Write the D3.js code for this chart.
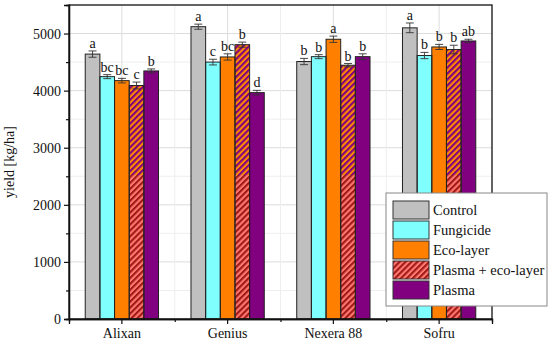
<!DOCTYPE html>
<html>
<head>
<meta charset="utf-8">
<script src="https://cdn.jsdelivr.net/npm/d3@7"></script>
<style>
  body { margin:0; background:#fff; }
  text { font-family:"Liberation Serif", "DejaVu Serif", serif; fill:#111; }
</style>
</head>
<body>
<div id="chart"></div>
<script>
// yield per cultivar and treatment
const cultivars = ["Alixan", "Genius", "Nexera 88", "Sofru"];
const treatments = ["Control", "Fungicide", "Eco-layer", "Plasma + eco-layer", "Plasma"];

const control   = [4640, 5120, 4510, 5100];
const fungicide = [4245, 4500, 4595, 4615];
const ecoLayer  = [4175, 4590, 4900, 4765];
const plasmaEco = [4090, 4805, 4445, 4720];
const plasma    = [4345, 3965, 4595, 4870];

const errControl   = [55, 45, 55, 85];
const errFungicide = [35, 50, 35, 55];
const errEcoLayer  = [40, 55, 55, 45];
const errPlasmaEco = [60, 45, 30, 75];
const errPlasma    = [35, 40, 50, 30];

const lettersControl   = ["a", "a", "b", "a"];
const lettersFungicide = ["bc", "c", "b", "b"];
const lettersEcoLayer  = ["bc", "bc", "a", "b"];
const lettersPlasmaEco = ["c", "b", "b", "b"];
const lettersPlasma    = ["b", "d", "b", "ab"];

const yTicks = [0, 1000, 2000, 3000, 4000, 5000];
const yMax = 5500;
const pasteLevel = 2520; // lower part of the hatched bars is red/salmon in the source

const series = [control, fungicide, ecoLayer, plasmaEco, plasma];
const errors = [errControl, errFungicide, errEcoLayer, errPlasmaEco, errPlasma];
const letters = [lettersControl, lettersFungicide, lettersEcoLayer, lettersPlasmaEco, lettersPlasma];
const fills = ["#c0c0c0", "#80ffff", "#ff8000", "url(#hatchTop)", "#800080"];

const rows = [];
cultivars.forEach((c, i) => treatments.forEach((t, j) => rows.push({
  cultivar:c, treatment:t, j:j, value:series[j][i], err:errors[j][i], letter:letters[j][i]
})));

const W = 550, H = 345;
const margin = { top:5, right:58, bottom:26, left:69 };
const width = W - margin.left - margin.right;
const height = H - margin.top - margin.bottom;
const serif = "Liberation Serif, DejaVu Serif, serif";

const svg0 = d3.select("#chart").append("svg").attr("width", W).attr("height", H);
const defs = svg0.append("defs");

function hatch(id, bg, fg) {
  const p = defs.append("pattern").attr("id", id)
    .attr("patternUnits", "userSpaceOnUse").attr("width", 4.2).attr("height", 4.2)
    .attr("patternTransform", "rotate(45)");
  p.append("rect").attr("width", 4.2).attr("height", 4.2).attr("fill", bg);
  p.append("rect").attr("width", 2.1).attr("height", 4.2).attr("fill", fg);
}
hatch("hatchTop", "#ff8c00", "#800080");
hatch("hatchLow", "#ff7a6e", "#a01818");

const svg = svg0.append("g").attr("transform", `translate(${margin.left},${margin.top})`);

const x0 = d3.scaleBand().domain(cultivars).range([0, width]).padding(0);
const groupW = x0.bandwidth() * 0.693;
const x1 = d3.scaleBand().domain(treatments).range([0, groupW]).padding(0);
const y = d3.scaleLinear().domain([0, yMax]).range([height, 0]);
const bx = d => x0(d.cultivar) + (x0.bandwidth() - groupW) / 2 + x1(d.treatment);

// grid
const minorY = d3.range(500, yMax, 1000);
svg.append("g").selectAll("line").data(minorY).enter().append("line")
  .attr("x1", 0).attr("x2", width).attr("y1", d => y(d)).attr("y2", d => y(d))
  .attr("stroke", "#eeeeee");
svg.append("g").selectAll("line").data(yTicks.slice(1)).enter().append("line")
  .attr("x1", 0).attr("x2", width).attr("y1", d => y(d)).attr("y2", d => y(d))
  .attr("stroke", "#dcdcdc");
svg.append("g").selectAll("line").data(cultivars.slice(1)).enter().append("line")
  .attr("x1", d => x0(d)).attr("x2", d => x0(d)).attr("y1", 0).attr("y2", height)
  .attr("stroke", "#eeeeee");
svg.append("g").selectAll("line").data(cultivars).enter().append("line")
  .attr("x1", d => x0(d) + x0.bandwidth()/2).attr("x2", d => x0(d) + x0.bandwidth()/2)
  .attr("y1", 0).attr("y2", height).attr("stroke", "#dcdcdc");

// bars
svg.append("g").selectAll("rect").data(rows).enter().append("rect")
  .attr("x", bx).attr("y", d => y(d.value))
  .attr("width", x1.bandwidth()).attr("height", d => height - y(d.value))
  .attr("fill", d => fills[d.j]);

svg.append("g").selectAll("rect").data(rows.filter(d => d.j === 3)).enter().append("rect")
  .attr("x", bx).attr("y", y(pasteLevel))
  .attr("width", x1.bandwidth()).attr("height", height - y(pasteLevel))
  .attr("fill", "url(#hatchLow)");

svg.append("g").selectAll("rect").data(rows).enter().append("rect")
  .attr("x", bx).attr("y", d => y(d.value))
  .attr("width", x1.bandwidth()).attr("height", d => height - y(d.value))
  .attr("fill", "none").attr("stroke", "#222").attr("stroke-width", 1);

// error bars
const eb = svg.append("g").attr("stroke", "#333").attr("stroke-width", 0.9);
rows.forEach(d => {
  const cx = bx(d) + x1.bandwidth()/2;
  eb.append("line").attr("x1", cx).attr("x2", cx).attr("y1", y(d.value + d.err)).attr("y2", y(d.value - d.err));
  eb.append("line").attr("x1", cx - 4).attr("x2", cx + 4).attr("y1", y(d.value + d.err)).attr("y2", y(d.value + d.err));
  eb.append("line").attr("x1", cx - 4).attr("x2", cx + 4).attr("y1", y(d.value - d.err)).attr("y2", y(d.value - d.err));
});

// significance letters
svg.append("g").selectAll("text").data(rows).enter().append("text")
  .attr("x", d => bx(d) + x1.bandwidth()/2)
  .attr("y", d => y(d.value + d.err) - 3)
  .attr("text-anchor", "middle").attr("font-family", serif).attr("font-size", 14)
  .text(d => d.letter);

// frame
svg.append("rect").attr("width", width).attr("height", height)
  .attr("fill", "none").attr("stroke", "#111").attr("stroke-width", 1.3);

// axes
svg.append("g").call(d3.axisLeft(y).tickValues(yTicks).tickFormat(d3.format("d")).tickSize(5).tickPadding(3));
svg.append("g").call(d3.axisLeft(y).tickValues(minorY).tickSize(3).tickFormat(""));
svg.append("g").attr("transform", `translate(0,${height})`)
  .call(d3.axisBottom(x0).tickSize(5).tickPadding(4));
svg.append("g").attr("transform", `translate(0,${height})`)
  .call(d3.axisBottom(d3.scaleLinear().domain([0, width]).range([0, width]))
    .tickValues(cultivars.slice(1).map(c => x0(c))).tickSize(3).tickFormat(""));
svg.selectAll(".domain").attr("stroke", "#111").attr("stroke-width", 1.3);
svg.selectAll(".tick line").attr("stroke", "#111").attr("stroke-width", 1.2);
svg.selectAll(".tick text").attr("font-family", serif).attr("font-size", 14).attr("fill", "#111");
svg.selectAll("g").filter(function() { return this.hasAttribute("font-family"); })
  .attr("font-family", serif).attr("font-size", 14);

svg.append("text")
  .attr("transform", `translate(${-55},${height/2}) rotate(-90)`)
  .attr("text-anchor", "middle").attr("font-family", serif).attr("font-size", 14)
  .text("yield [kg/ha]");

// legend
const legend = svg0.append("g").attr("transform", "translate(386,193)");
legend.append("rect").attr("width", 161).attr("height", 113)
  .attr("fill", "#fff").attr("stroke", "#888").attr("stroke-width", 1);
const legendFills = ["#c0c0c0", "#80ffff", "#ff8000", "url(#hatchLow)", "#800080"];
treatments.forEach((t, i) => {
  const g = legend.append("g").attr("transform", `translate(7,${8 + i*20})`);
  g.append("rect").attr("width", 36).attr("height", 18)
    .attr("fill", legendFills[i]).attr("stroke", "#333").attr("stroke-width", 1);
  g.append("text").attr("x", 40).attr("y", 14).attr("font-family", serif).attr("font-size", 14.5).text(t);
});
</script>
</body>
</html>
